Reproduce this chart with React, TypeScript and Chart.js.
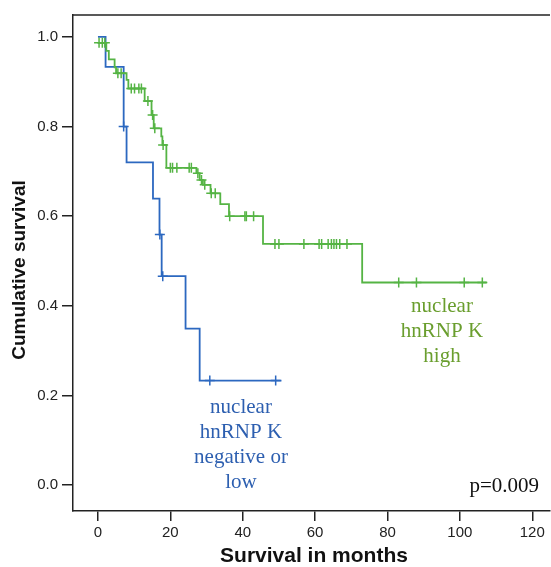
import React, { useEffect, useRef } from "react";
import { Chart, registerables } from "chart.js";

Chart.register(...registerables);

// Kaplan-Meier curve: nuclear hnRNP K negative or low (blue)
const blueTimes = [0, 2.1, 7.1, 7.9, 15.2, 17.0, 17.6, 24.2, 28.1, 50.7];
const blueSurv = [1.0, 0.933, 0.8, 0.72, 0.639, 0.559, 0.466, 0.349, 0.233, 0.233];
const blueCensor = [7.1, 17.1, 17.9, 30.9, 49.1];

// Kaplan-Meier curve: nuclear hnRNP K high (green)
const greenTimes = [0, 2.3, 3.0, 4.6, 5.0, 7.9, 8.4, 12.9, 14.8, 15.4, 17.5, 17.8, 18.9, 27.2, 28.1, 29.0, 31.1, 33.8, 36.2, 45.6, 73.0, 107.4];
const greenSurv = [0.987, 0.969, 0.95, 0.932, 0.919, 0.904, 0.885, 0.857, 0.826, 0.796, 0.778, 0.759, 0.708, 0.696, 0.681, 0.67, 0.651, 0.627, 0.6, 0.538, 0.452, 0.452];
const greenCensor = [
  0.3, 1.2, 1.9, 5.5, 6.4, 9.2, 10.1, 11.3, 12.0, 13.8, 15.1, 15.7, 18.0,
  20.0, 20.6, 21.8, 25.2, 25.8, 27.6, 28.6, 29.5, 31.3, 32.4, 36.4, 40.6, 41.0, 43.0,
  48.9, 50.0, 56.9, 61.1, 61.8, 63.6, 64.5, 65.2, 65.9, 66.8, 68.8,
  83.1, 88.0, 101.2, 106.2,
];

const xTickValues = [0, 20, 40, 60, 80, 100, 120];
const yTickValues = [0, 0.2, 0.4, 0.6, 0.8, 1.0];

const blueLabel = ["nuclear", "hnRNP K", "negative or", "low"];
const greenLabel = ["nuclear", "hnRNP K", "high"];
const pValueText = "p=0.009";
const xTitle = "Survival in months";
const yTitle = "Cumulative survival";

const BLUE = "#2c68c0";
const GREEN = "#55b444";

function stepValue(times: number[], surv: number[], t: number) {
  let v = surv[0];
  for (let i = 0; i < times.length; i++) if (times[i] <= t) v = surv[i];
  return v;
}

const annotationPlugin = {
  id: "kmAnnotations",
  afterDraw(chart: any) {
    const { ctx, chartArea } = chart;
    ctx.save();
    // top frame line
    ctx.strokeStyle = "#222";
    ctx.lineWidth = 1.5;
    ctx.beginPath();
    ctx.moveTo(chartArea.left, chartArea.top);
    ctx.lineTo(chartArea.right, chartArea.top);
    ctx.stroke();

    ctx.textAlign = "center";
    ctx.textBaseline = "middle";
    ctx.font = '21px "Liberation Serif", "Times New Roman", serif';
    ctx.fillStyle = "#2d5fb0";
    blueLabel.forEach((s, i) => ctx.fillText(s, 241, 407 + i * 25));
    ctx.fillStyle = "#6a9e2e";
    greenLabel.forEach((s, i) => ctx.fillText(s, 442, 306 + i * 25));
    ctx.fillStyle = "#111";
    ctx.textAlign = "right";
    ctx.fillText(pValueText, 539, 486);

    ctx.textAlign = "center";
    ctx.fillStyle = "#111";
    ctx.font = 'bold 21px "Liberation Sans", Arial, sans-serif';
    ctx.fillText(xTitle, 314, 556);
    ctx.translate(20, 270);
    ctx.rotate(-Math.PI / 2);
    ctx.font = 'bold 19px "Liberation Sans", Arial, sans-serif';
    ctx.fillText(yTitle, 0, 0);
    ctx.restore();
  },
};

export default function App() {
  const ref = useRef<HTMLCanvasElement>(null);
  useEffect(() => {
    if (!ref.current) return;
    const mk = (times: number[], surv: number[]) => times.map((t, i) => ({ x: t, y: surv[i] }));
    const mc = (c: number[], times: number[], surv: number[]) => c.map((t) => ({ x: t, y: stepValue(times, surv, t) }));
    const chart = new Chart(ref.current, {
      type: "line",
      data: {
        datasets: [
          { data: mk(greenTimes, greenSurv), borderColor: GREEN, borderWidth: 1.8, stepped: "before", pointRadius: 0, fill: false },
          { data: mc(greenCensor, greenTimes, greenSurv), showLine: false, pointStyle: "cross", pointRadius: 5, borderColor: GREEN, pointBorderWidth: 1.5, backgroundColor: GREEN },
          { data: mk(blueTimes, blueSurv), borderColor: BLUE, borderWidth: 1.8, stepped: "before", pointRadius: 0, fill: false },
          { data: mc(blueCensor, blueTimes, blueSurv), showLine: false, pointStyle: "cross", pointRadius: 5, borderColor: BLUE, pointBorderWidth: 1.5, backgroundColor: BLUE },
        ] as any,
      },
      options: {
        animation: false,
        responsive: false,
        maintainAspectRatio: false,
        devicePixelRatio: 1,
        layout: { autoPadding: false, padding: { top: 15, right: 1, left: 0, bottom: 0 } },
        plugins: { legend: { display: false }, tooltip: { enabled: false } },
        scales: {
          x: {
            type: "linear",
            min: -6.9,
            max: 124.9,
            afterFit: (s: any) => { s.height = 56; s.paddingLeft = 0; s.paddingRight = 0; },
            afterBuildTicks: (s: any) => { s.ticks = xTickValues.map((value) => ({ value })); },
            ticks: { color: "#222", font: { family: '"Liberation Sans", Arial, sans-serif', size: 15 }, padding: 3, callback: (v: any) => String(v), maxRotation: 0 },
            grid: { display: true, drawOnChartArea: false, drawTicks: true, tickLength: 10, color: "#222", lineWidth: 1.5 },
            border: { display: true, color: "#222", width: 1.5 },
          },
          y: {
            type: "linear",
            min: -0.058,
            max: 1.049,
            afterFit: (s: any) => { s.width = 73; s.paddingTop = 0; s.paddingBottom = 0; },
            afterBuildTicks: (s: any) => { s.ticks = yTickValues.map((value) => ({ value })); },
            ticks: { color: "#222", font: { family: '"Liberation Sans", Arial, sans-serif', size: 15 }, padding: 4, callback: (v: any) => Number(v).toFixed(1) },
            grid: { display: true, drawOnChartArea: false, drawTicks: true, tickLength: 11, color: "#222", lineWidth: 1.5 },
            border: { display: true, color: "#222", width: 1.5 },
          },
        },
      },
      plugins: [annotationPlugin],
    } as any);
    return () => chart.destroy();
  }, []);
  return (
    <div style={{ position: "fixed", left: 0, top: 0, width: 551, height: 567, background: "#fff" }}>
      <canvas ref={ref} width={551} height={567} style={{ display: "block" }} />
    </div>
  );
}
